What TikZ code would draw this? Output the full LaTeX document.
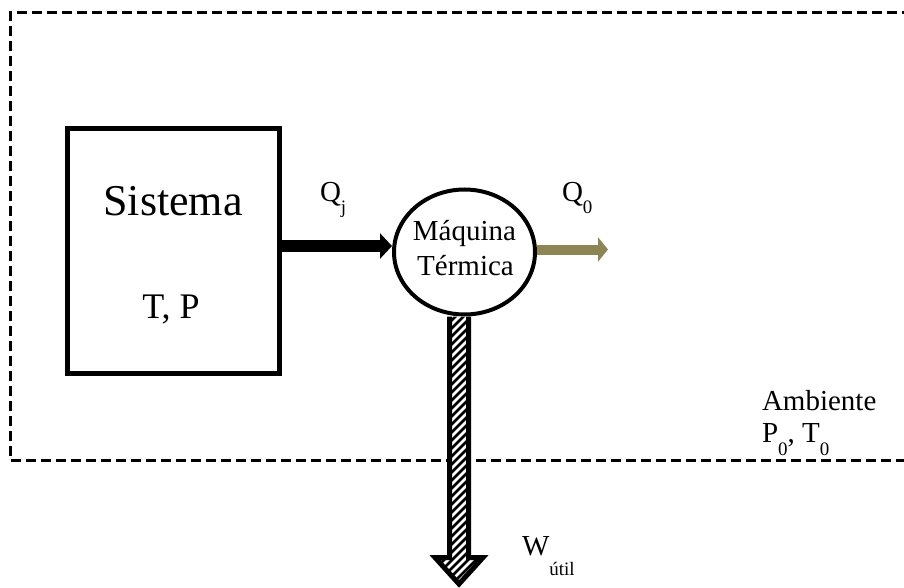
\documentclass[tikz,border=0pt]{standalone}
\usepackage{fontspec}
\setmainfont{Liberation Serif}
\usetikzlibrary{arrows.meta,shapes.geometric,calc}

\definecolor{heatout}{RGB}{142,133,84}

% lowered subscript, as set in the labels
\newcommand{\lowsub}[2][12pt]{\raisebox{-#1}{\fontsize{19}{19}\selectfont #2}}

\begin{document}
\begin{tikzpicture}[x=1pt,y=-1pt,
  txt/.style={inner sep=0pt,outer sep=0pt},
  boundary/.style={line width=3pt,dash pattern=on 10pt off 5pt},
  systembox/.style={draw,line width=5pt,rectangle,minimum width=212pt,minimum height=244pt,inner sep=0pt},
  engine/.style={draw,line width=4pt,ellipse,minimum width=141pt,minimum height=125pt,inner sep=0pt,fill=white},
  heatin/.style={line width=12pt,-{Triangle[length=12pt,width=25pt]}},
  heatrej/.style={draw=heatout,line width=10pt,-{Triangle[length=10pt,width=24pt]},color=heatout},
  workarrow/.style={line width=5pt,line join=miter,fill=white,
    path picture={\foreach \c in {740,748,...,1090}
      \draw[line width=2.8pt] (\c-620,620) -- (\c-300,300);}},
]
\useasboundingbox (0,0) rectangle (904,588);

% surroundings boundary (open to the right)
\draw[boundary] (912,13) -- (10,13) -- (10,460) -- (912,460);

% system and heat engine
\node[systembox] (sys) at (173,251) {};
\node[engine] (eng) at (464.5,252) {};

\node[txt,anchor=base,font=\fontsize{44}{44}\selectfont] (sysname) at (173,215) {Sistema};
\node[txt,anchor=base,font=\fontsize{36}{36}\selectfont] (sysstate) at (171,318) {T, P};
\node[txt,anchor=base,font=\fontsize{29}{29}\selectfont] (eng1) at (464.5,240) {Máquina};
\node[txt,anchor=base,font=\fontsize{29}{29}\selectfont] (eng2) at (465.5,275) {Térmica};

% heat from the system into the engine
\coordinate (qjtip) at ([yshift=6pt]eng.west);
\draw[heatin] (sys.east |- qjtip) -- (qjtip);
\node[txt,anchor=base west,font=\fontsize{29}{29}\selectfont] (qj) at (320,201) {Q\lowsub{j}};

% heat rejected to the surroundings
\coordinate (q0start) at ([yshift=2.5pt]eng.east);
\coordinate (q0end) at (608,249.5);
\draw[heatrej] (q0start) -- (q0end);
\node[txt,anchor=base west,font=\fontsize{29}{29}\selectfont] (q0) at (562,201) {Q\lowsub{0}};

% useful work leaving through the boundary
\coordinate (wend) at (459,584);
\coordinate (wtop) at (eng.south -| wend);
\draw[workarrow]
  ($(wtop)+(-9.5,0)$) -- ($(wend |- 0,557.5)+(-9.5,0)$) -- ($(wend |- 0,557.5)+(-24,0)$)
  -- (wend) -- ($(wend |- 0,557.5)+(24,0)$) -- ($(wend |- 0,557.5)+(9.5,0)$)
  -- ($(wtop)+(9.5,0)$);
\node[txt,anchor=base west,font=\fontsize{29}{29}\selectfont] (wut) at (522,555) {W\lowsub[20pt]{útil}};

% surroundings state
\node[txt,anchor=base west,font=\fontsize{29}{29}\selectfont] (amb) at (762,410) {Ambiente};
\node[txt,anchor=base west,font=\fontsize{29}{29}\selectfont] (ambstate) at (762,442) {P\lowsub[13pt]{0}, T\lowsub[13pt]{0}};
\end{tikzpicture}
\end{document}
